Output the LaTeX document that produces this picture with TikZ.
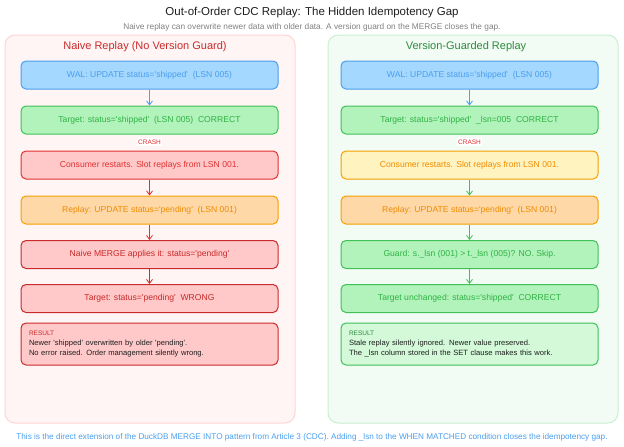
\documentclass[tikz,border=0pt]{standalone}
\usepackage{fontspec}
\setmainfont{Liberation Sans}[Ligatures=TeXOff]
\usepackage{xcolor}
\usetikzlibrary{arrows.meta}

\definecolor{walfill}{HTML}{A5D8FF}
\definecolor{waldraw}{HTML}{4A9EED}
\definecolor{okfill}{HTML}{B2F2BB}
\definecolor{okdraw}{HTML}{40C057}
\definecolor{oktext}{HTML}{2FB344}
\definecolor{badfill}{HTML}{FFC9C9}
\definecolor{baddraw}{HTML}{E03131}
\definecolor{worsedraw}{HTML}{C92A2A}
\definecolor{replayfill}{HTML}{FFD8A8}
\definecolor{replaydraw}{HTML}{F59F00}
\definecolor{replaytext}{HTML}{F08C00}
\definecolor{warnfill}{HTML}{FFF3BF}
\definecolor{leftpanel}{HTML}{FFF5F5}
\definecolor{leftedge}{HTML}{FFD4D4}
\definecolor{rightpanel}{HTML}{F3FCF4}
\definecolor{rightedge}{HTML}{C9EFCF}
\definecolor{resultfill}{HTML}{D3F9D8}
\definecolor{darkgreen}{HTML}{2B8A3E}
\definecolor{ink}{HTML}{1E1E1E}

\begin{document}
\begin{tikzpicture}[x=1pt, y=-1pt, thick, >={Straight Barb[length=4pt,width=6pt]},
    panel/.style={rounded corners=10pt, line width=1pt},
    box/.style={draw, rounded corners=5pt, line width=1pt, minimum width=257pt,
        minimum height=28pt, font=\fontsize{8.6}{10}\selectfont},
    walbox/.style={box, fill=walfill, draw=waldraw, text=waldraw},
    okbox/.style={box, fill=okfill, draw=okdraw, text=oktext},
    badbox/.style={box, fill=badfill, draw=baddraw, text=baddraw},
    worsebox/.style={box, fill=badfill, draw=worsedraw, text=worsedraw},
    replaybox/.style={box, fill=replayfill, draw=replaydraw, text=replaytext},
    warnbox/.style={box, fill=warnfill, draw=replaydraw, text=replaytext},
    resultbox/.style={box, minimum height=42pt, text width=241pt, align=left,
        text=ink, font=\fontsize{7.6}{10}\selectfont},
    crash/.style={fill=white, text=baddraw, inner sep=1.5pt, font=\fontsize{6.5}{7}\selectfont},
    heading/.style={font=\fontsize{11}{13}\selectfont}]
    \useasboundingbox (0,0) rectangle (624,447);

    % title
    \node[text=ink, font=\fontsize{11.5}{13}\selectfont] (T) at (312,13)
        {Out-of-Order CDC Replay: The Hidden Idempotency Gap};
    \node[text=gray, font=\fontsize{8.3}{9}\selectfont] (ST) at (312,27)
        {Naive replay can overwrite newer data with older data. A version guard on the MERGE closes the gap.};

    % panels
    \draw[panel, fill=leftpanel, draw=leftedge] (5,35) rectangle (295,423);
    \draw[panel, fill=rightpanel, draw=rightedge] (328,35) rectangle (618,423);
    \node[heading, text=worsedraw] (LT) at (145,47) {Naive Replay (No Version Guard)};
    \node[heading, text=darkgreen] (RT) at (466,47) {Version-Guarded Replay};

    % naive side
    \node[walbox] (L1) at (149.5,75) {WAL: UPDATE status='shipped'~ (LSN 005)};
    \node[okbox] (L2) at (149.5,120) {Target: status='shipped'~ (LSN 005)~ CORRECT};
    \node[crash] (LC) at (149.5,142) {CRASH};
    \node[badbox] (L3) at (149.5,165) {Consumer restarts. Slot replays from LSN 001.};
    \node[replaybox] (L4) at (149.5,210) {Replay: UPDATE status='pending'~ (LSN 001)};
    \node[worsebox] (L5) at (149.5,254.5) {Naive MERGE applies it: status='pending'};
    \node[worsebox] (L6) at (149.5,298.5) {Target: status='pending'~ WRONG};
    \node[resultbox, fill=badfill, draw=worsedraw] (LR) at (149.5,344)
        {{\color{worsedraw}\fontsize{6.5}{7}\selectfont RESULT}\\
         Newer 'shipped' overwritten by older 'pending'.\\
         No error raised. Order management silently wrong.};

    \draw[->, waldraw] (L1) -- (L2);
    \draw[->, baddraw] (L3) -- (L4);
    \draw[->, baddraw] (L4) -- (L5);
    \draw[->, worsedraw] (L5) -- (L6);

    % guarded side
    \node[walbox] (R1) at (469.5,75) {WAL: UPDATE status='shipped'~ (LSN 005)};
    \node[okbox] (R2) at (469.5,120) {Target: status='shipped'~ \_lsn=005~ CORRECT};
    \node[crash] (RC) at (469.5,142) {CRASH};
    \node[warnbox] (R3) at (469.5,165) {Consumer restarts. Slot replays from LSN 001.};
    \node[replaybox] (R4) at (469.5,210) {Replay: UPDATE status='pending'~ (LSN 001)};
    \node[okbox] (R5) at (469.5,254.5) {Guard: s.\_lsn (001) > t.\_lsn (005)? NO. Skip.};
    \node[okbox] (R6) at (469.5,298.5) {Target unchanged: status='shipped'~ CORRECT};
    \node[resultbox, fill=resultfill, draw=okdraw] (RR) at (469.5,344)
        {{\color{darkgreen}\fontsize{6.5}{7}\selectfont RESULT}\\
         Stale replay silently ignored. Newer value preserved.\\
         The \_lsn column stored in the SET clause makes this work.};

    \draw[->, waldraw] (R1) -- (R2);
    \draw[->, okdraw] (R3) -- (R4);
    \draw[->, okdraw] (R4) -- (R5);
    \draw[->, okdraw] (R5) -- (R6);

    % footer
    \node[text=waldraw, font=\fontsize{8.2}{9}\selectfont] (F) at (312,437)
        {This is the direct extension of the DuckDB MERGE INTO pattern from Article 3 (CDC). Adding \_lsn to the WHEN MATCHED condition closes the idempotency gap.};
\end{tikzpicture}
\end{document}
